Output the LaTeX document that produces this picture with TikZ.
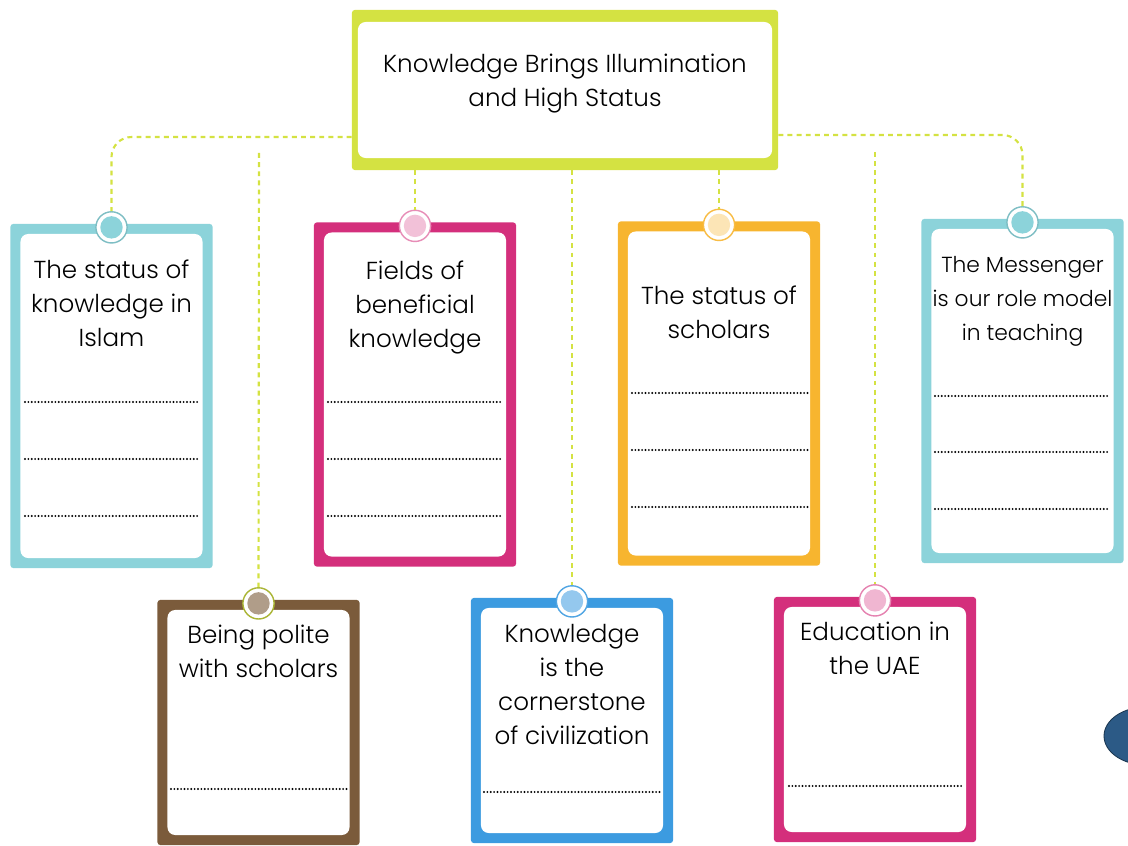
\documentclass[tikz,border=0pt]{standalone}
\usepackage{fontspec}
\IfFontExistsTF{Poppins Light}{\setmainfont{Poppins Light}}{\setmainfont{Poppins}}
\usepackage{xcolor}
\usetikzlibrary{positioning}

\definecolor{limeg}{HTML}{D4E242}
\definecolor{cyanc}{HTML}{8CD3DA}
\definecolor{magc}{HTML}{D42F7C}
\definecolor{orangec}{HTML}{F7B52F}
\definecolor{brownc}{HTML}{7B5B3B}
\definecolor{bluec}{HTML}{3C9BE0}
\definecolor{navyc}{HTML}{2C5A86}

\begin{document}
\begin{tikzpicture}[
    x=0.025cm, y=-0.025cm,
    card/.style={rectangle, fill=#1, rounded corners=2pt, inner sep=0pt, minimum width=5.05cm,
        path picture={\fill[white, rounded corners=5.5pt]
            ([shift={(0.25cm,0.25cm)}]path picture bounding box.south west) rectangle
            ([shift={(-0.25cm,-0.25cm)}]path picture bounding box.north east);}},
    tall/.style={minimum height=8.6cm},
    short/.style={minimum height=6.125cm},
    titlebox/.style={rectangle, fill=limeg, rounded corners=2pt, inner sep=0pt,
        minimum width=10.65cm, minimum height=4cm,
        path picture={\fill[white, rounded corners=5.5pt]
            ([shift={(0.15cm,0.3cm)}]path picture bounding box.south west) rectangle
            ([shift={(-0.15cm,-0.3cm)}]path picture bounding box.north east);}},
    tagdot/.style 2 args={circle, fill=white, draw=#1, line width=1pt, minimum size=0.78cm, inner sep=0pt,
        path picture={\fill[#2] (path picture bounding box.center) circle (0.28cm);}},
    heading/.style={align=center, font=\fontsize{17.5}{24.2}\selectfont, inner sep=0pt},
    dots/.style={line width=1.5pt, line cap=round, dash pattern=on 0pt off 2.4pt},
    link/.style={limeg, line width=1.5pt, dash pattern=on 3.5pt off 3pt}
]
    \useasboundingbox (0,0) rectangle (1128,846);

    % title
    \node[titlebox] (top) at (565,90) {};
    \node[heading, below=1.1cm of top.north] (toptext) {Knowledge Brings Illumination\\and High Status};

    % upper row
    \node[card=cyanc, tall] (c1) at (111.5,396) {};
    \node[card=magc, tall] (c2) at (415,394.5) {};
    \node[card=orangec, tall] (c3) at (719,393.5) {};
    \node[card=cyanc, tall] (c4) at (1022.5,391) {};

    % lower row
    \node[card=brownc, short] (c5) at (258.5,722.5) {};
    \node[card=bluec, short] (c6) at (572,720.5) {};
    \node[card=magc, short] (c7) at (875,719.5) {};

    % tags on the cards
    \node[tagdot={cyanc!90!black}{cyanc}, above=-0.5cm of c1.north] (p1) {};
    \node[tagdot={magc!55}{magc!30}, above=-0.5cm of c2.north] (p2) {};
    \node[tagdot={orangec!90}{orangec!35}, above=-0.5cm of c3.north] (p3) {};
    \node[tagdot={cyanc!90!black}{cyanc}, above=-0.5cm of c4.north] (p4) {};
    \node[tagdot={limeg!80!black}{brownc!60}, above=-0.5cm of c5.north] (p5) {};
    \node[tagdot={bluec!90}{bluec!55}, above=-0.5cm of c6.north] (p6) {};
    \node[tagdot={magc!60}{magc!35}, above=-0.5cm of c7.north] (p7) {};

    % card texts
    \node[heading, below=0.9cm of c1.north] (t1) {The status of\\knowledge in\\Islam};
    \node[heading, below=0.95cm of c2.north] (t2) {Fields of\\beneficial\\knowledge};
    \node[heading, below=1.6cm of c3.north] (t3) {The status of\\scholars};
    \node[heading, below=0.93cm of c4.north, font=\fontsize{15.5}{24.2}\selectfont] (t4) {The Messenger\\is our role model\\in teaching};
    \node[heading, below=0.62cm of c5.north] (t5) {Being polite\\with scholars};
    \node[heading, below=0.65cm of c6.north] (t6) {Knowledge\\is the\\cornerstone\\of civilization};
    \node[heading, below=0.62cm of c7.north] (t7) {Education in\\the UAE};

    % lines to write on
    \foreach \y in {402,459,516} {
        \draw[dots] (25,\y) -- (200,\y);
        \draw[dots] (328,\y) -- (503,\y);
    }
    \foreach \y in {393,450,507} \draw[dots] (632,\y) -- (808,\y);
    \foreach \y in {396,452,509} \draw[dots] (935,\y) -- (1110,\y);
    \draw[dots] (171,789) -- (347,789);
    \draw[dots] (484,792) -- (661,792);
    \draw[dots] (789,786) -- (962,786);

    % dashed links
    \coordinate (s5) at (259,153);
    \coordinate (s7) at (875,152);
    \draw[link, rounded corners=0.5cm] ([yshift=-1.175cm]top.west) -| (p1.north);
    \draw[link, rounded corners=0.5cm] ([yshift=-1.125cm]top.east) -| (p4.north);
    \draw[link] (top.south -| p2.north) -- (p2.north);
    \draw[link] (top.south -| p3.north) -- (p3.north);
    \draw[link] (top.south -| p6.north) -- (p6.north);
    \draw[link] (s5) -- (p5.north);
    \draw[link] (s7) -- (p7.north);

    % page tab at the edge
    \fill[navyc, draw=navyc!60!black, line width=0.6pt] (1146,736) ellipse (42 and 29);
\end{tikzpicture}
\end{document}
